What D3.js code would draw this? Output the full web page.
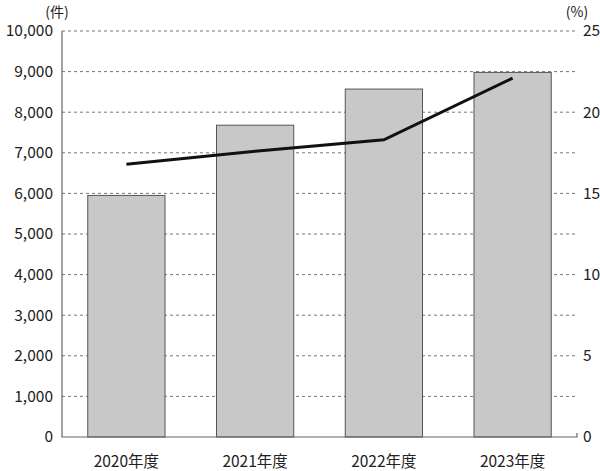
<!DOCTYPE html>
<html><head><meta charset="utf-8">
<script src="https://cdn.jsdelivr.net/npm/d3@7"></script>
<style>body{margin:0;background:#fff}text{font-family:"Noto Sans CJK JP",sans-serif;fill:#222}</style>
</head><body><svg id="chart" width="600" height="471"></svg>
<script>
const categories = ['2020年度', '2021年度', '2022年度', '2023年度'];
const counts = [5950, 7680, 8570, 8980];
const rates = [16.8, 17.6, 18.3, 22.1];
const leftTicks = [0,1000,2000,3000,4000,5000,6000,7000,8000,9000,10000];
const rightTicks = [0,5,10,15,20,25];

const margin = {top: 31, right: 23, bottom: 34, left: 62};
const W = 600, H = 471;
const svg = d3.select('#chart');

const x = d3.scaleBand().domain(categories).range([margin.left, W - margin.right]).paddingInner(0.4).paddingOuter(0.2);
const yL = d3.scaleLinear().domain([0, 10000]).range([H - margin.bottom, margin.top]);
const yR = d3.scaleLinear().domain([0, 25]).range([H - margin.bottom, margin.top]);

// gridlines
svg.append('g').selectAll('line').data(leftTicks.slice(1)).enter().append('line')
  .attr('x1', margin.left).attr('x2', W - margin.right)
  .attr('y1', d => yL(d)).attr('y2', d => yL(d))
  .attr('stroke', '#777').attr('stroke-dasharray', '3,3').attr('stroke-width', 1);

// bars
svg.append('g').selectAll('rect').data(counts).enter().append('rect')
  .attr('x', (d, i) => x(categories[i])).attr('width', x.bandwidth())
  .attr('y', d => yL(d)).attr('height', d => yL(0) - yL(d))
  .attr('fill', '#c8c8c8').attr('stroke', '#555').attr('stroke-width', 1);

// axes lines
svg.append('path').attr('d', `M${margin.left},${margin.top}V${yL(0)}H${W - margin.right}V${yL(0)-4}`)
  .attr('fill', 'none').attr('stroke', '#666').attr('stroke-width', 1.2);

// line
const line = d3.line().x((d, i) => x(categories[i]) + x.bandwidth() / 2).y(d => yR(d));
svg.append('path').datum(rates).attr('d', line).attr('fill', 'none').attr('stroke', '#111').attr('stroke-width', 3);

// labels
svg.append('g').selectAll('text').data(leftTicks).enter().append('text')
  .attr('x', 53).attr('y', d => yL(d)).attr('dy', '0.35em').attr('text-anchor', 'end')
  .attr('font-size', 15.5).text(d => d3.format(',')(d));
svg.append('g').selectAll('text').data(rightTicks).enter().append('text')
  .attr('x', 583).attr('y', d => yR(d)).attr('dy', '0.35em').attr('text-anchor', 'start')
  .attr('font-size', 15.5).text(d => d);
svg.append('g').selectAll('text').data(categories).enter().append('text')
  .attr('x', d => x(d) + x.bandwidth() / 2).attr('y', 462).attr('dy', '0.35em').attr('text-anchor', 'middle')
  .attr('font-size', 15.5).text(d => d);
svg.append('text').attr('x', 57).attr('y', 12).attr('dy', '0.35em').attr('text-anchor', 'middle').attr('font-size', 14).text('(件)');
svg.append('text').attr('x', 577).attr('y', 12).attr('dy', '0.35em').attr('text-anchor', 'middle').attr('font-size', 14).text('(%)');
</script></body></html>
